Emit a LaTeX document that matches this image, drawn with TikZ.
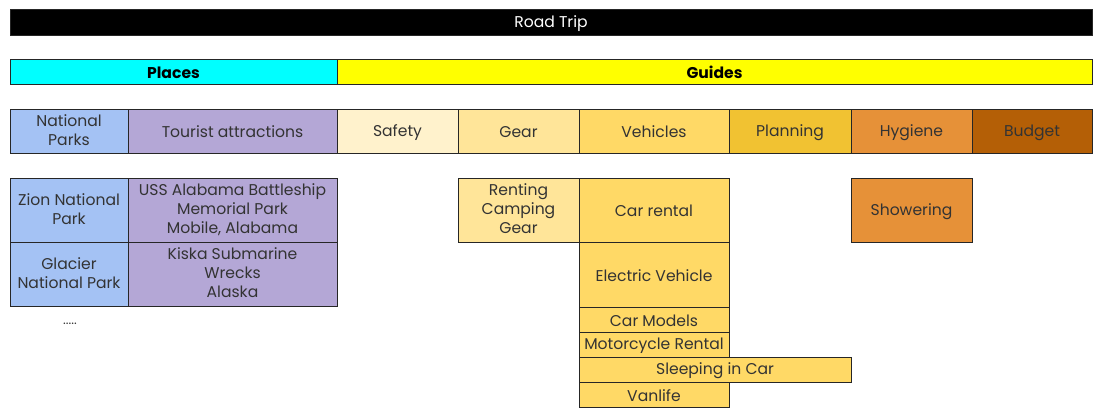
\documentclass[tikz,border=0pt]{standalone}
\usepackage{fontspec}
\setmainfont{Poppins}
\definecolor{txt}{HTML}{333333}
\definecolor{cyanc}{HTML}{00FFFF}
\definecolor{yellowc}{HTML}{FFFF00}
\definecolor{npblue}{HTML}{A4C2F4}
\definecolor{tapurple}{HTML}{B4A7D6}
\definecolor{safetyc}{HTML}{FFF2CC}
\definecolor{gearc}{HTML}{FFE599}
\definecolor{vehc}{HTML}{FFD966}
\definecolor{planc}{HTML}{F1C232}
\definecolor{hygc}{HTML}{E69138}
\definecolor{budc}{HTML}{B45F06}
\newcommand\mystrut{\rule[-2pt]{0pt}{17pt}}
\tikzset{
  cellbox/.style={draw=black!85, line width=1pt, inner sep=0pt, outer sep=0pt, align=center,
    text=txt, font=\fontsize{15.6}{19}\selectfont,
    execute at begin node=\mystrut, execute at end node=\mystrut},
}
\newcommand\cell[7]{%
  \node[cellbox, fill=#6, minimum width={(#4-#2)*1pt}, minimum height={(#5-#3)*1pt}]
    (#1) at ({(#2+#4)/2},{(#3+#5)/2}) {#7};}
\begin{document}
\begin{tikzpicture}[x=1pt,y=-1pt]
\useasboundingbox (0,0) rectangle (1101,418);
\fill[white] (0,0) rectangle (1101,418);
% title
\cell{title}{10}{9}{1092}{35}{black}{\textcolor{white}{Road Trip}}
% section bars
\cell{places}{10}{59}{337}{84}{cyanc}{\textcolor{black}{\bfseries Places}}
\cell{guides}{337}{59}{1092}{84}{yellowc}{\textcolor{black}{\bfseries Guides}}
% categories
\cell{natparks}{10}{109}{128}{153}{npblue}{National\\Parks}
\cell{tourist}{128}{109}{337}{153}{tapurple}{Tourist attractions}
\cell{safety}{337}{109}{458}{153}{safetyc}{Safety}
\cell{gear}{458}{109}{579}{153}{gearc}{Gear}
\cell{vehicles}{579}{109}{729}{153}{vehc}{Vehicles}
\cell{planning}{729}{109}{851}{153}{planc}{Planning}
\cell{hygiene}{851}{109}{972}{153}{hygc}{Hygiene}
\cell{budget}{972}{109}{1092}{153}{budc}{Budget}
% places items
\cell{zion}{10}{178}{128}{242}{npblue}{Zion National\\Park}
\cell{glacier}{10}{242}{128}{306}{npblue}{Glacier\\National Park}
\cell{uss}{128}{178}{337}{242}{tapurple}{USS Alabama Battleship\\Memorial Park\\Mobile, Alabama}
\cell{kiska}{128}{242}{337}{306}{tapurple}{Kiska Submarine\\Wrecks\\Alaska}
\node[text=txt, font=\fontsize{13}{15}\selectfont] (dots) at (70,324) {.....};
% guides items
\cell{renting}{458}{178}{579}{242}{gearc}{Renting\\Camping\\Gear}
\cell{carrental}{579}{178}{729}{242}{vehc}{Car rental}
\cell{ev}{579}{242}{729}{307}{vehc}{Electric Vehicle}
\cell{carmodels}{579}{307}{729}{332}{vehc}{Car Models}
\cell{moto}{579}{332}{729}{357}{vehc}{Motorcycle Rental}
\cell{sleeping}{579}{357}{851}{382}{vehc}{Sleeping in Car}
\cell{vanlife}{579}{382}{729}{407}{vehc}{Vanlife}
\cell{showering}{851}{178}{972}{242}{hygc}{Showering}
\end{tikzpicture}
\end{document}
